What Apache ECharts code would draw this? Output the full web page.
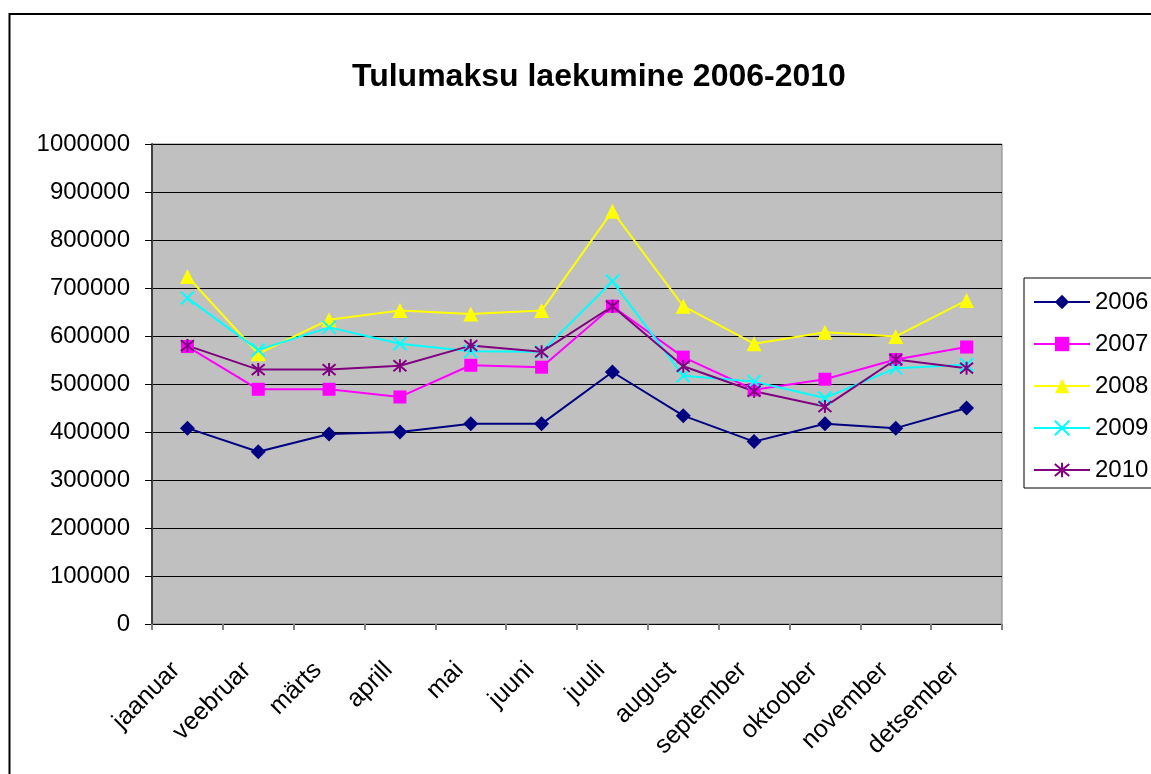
<!DOCTYPE html>
<html>
<head>
<meta charset="utf-8">
<title>Tulumaksu laekumine 2006-2010</title>
<script src="https://cdn.jsdelivr.net/npm/echarts@6/dist/echarts.min.js"></script>
<style>
  html, body { margin: 0; padding: 0; background: #fff; }
  #chart { width: 1151px; height: 774px; }
</style>
</head>
<body>
<div id="chart"></div>
<script>
// kuud
var months = ['jaanuar', 'veebruar', 'märts', 'aprill', 'mai', 'juuni',
  'juuli', 'august', 'september', 'oktoober', 'november', 'detsember'];

// laekumised aastate kaupa (loetud jooniselt)
var y2006 = [408000, 359000, 396000, 400000, 417000, 417000, 525000, 434000, 380000, 417000, 408000, 450000];
var y2007 = [578000, 489000, 489000, 473000, 539000, 535000, 662000, 556000, 488000, 510000, 551000, 577000];
var y2008 = [724000, 563000, 634000, 653000, 646000, 653000, 860000, 662000, 584000, 608000, 599000, 674000];
var y2009 = [679000, 571000, 618000, 584000, 568000, 567000, 714000, 517000, 505000, 471000, 533000, 540000];
var y2010 = [580000, 530000, 530000, 538000, 580000, 567000, 662000, 537000, 485000, 453000, 551000, 533000];

var yearNames = ['2006', '2007', '2008', '2009', '2010'];

var font = '"Liberation Sans", Arial, sans-serif';

// X ja tärn markerid
var crossPath = 'path://M0,0 L10,10 M10,0 L0,10';
var starPath = 'path://M0,0 L10,10 M10,0 L0,10 M5,-1 L5,11';

function lineSeries(name, data, color, symbol, size, stroke) {
  var s = {
    name: name,
    type: 'line',
    data: data,
    symbol: symbol,
    symbolSize: size,
    showAllSymbol: true,
    lineStyle: { color: color, width: 2 },
    itemStyle: { color: color },
    emphasis: { disabled: true },
    animation: false
  };
  if (stroke) {
    s.itemStyle = { color: color, borderColor: color, borderWidth: 2 };
  }
  return s;
}

var chart = echarts.init(document.getElementById('chart'));

var option = {
  backgroundColor: '#ffffff',
  textStyle: { fontFamily: font },
  title: {
    text: 'Tulumaksu laekumine 2006-2010',
    left: 352,
    top: 61,
    padding: 0,
    textStyle: { fontFamily: font, fontSize: 32, fontWeight: 'bold', color: '#000' }
  },
  legend: {
    orient: 'vertical',
    left: 1024,
    top: 278,
    padding: [12, 14, 6, 9],
    itemWidth: 56,
    itemHeight: 18,
    itemGap: 18,
    backgroundColor: '#ffffff',
    borderColor: '#000000',
    borderWidth: 1,
    borderRadius: 0,
    data: yearNames,
    textStyle: { fontFamily: font, fontSize: 24, color: '#000', lineHeight: 24 }
  },
  grid: {
    left: 152,
    top: 144,
    right: 149,
    bottom: 150,
    show: true,
    backgroundColor: '#c0c0c0',
    borderColor: '#808080',
    borderWidth: 1
  },
  xAxis: {
    type: 'category',
    data: months,
    boundaryGap: true,
    axisLine: { show: true, lineStyle: { color: '#000', width: 1 } },
    axisTick: { show: true, length: 6, alignWithLabel: false, lineStyle: { color: '#808080', width: 2 } },
    axisLabel: {
      rotate: 45,
      margin: 31,
      interval: 0,
      padding: [0, 16, 0, 0],
      fontFamily: font,
      fontSize: 25,
      color: '#000'
    },
    splitLine: { show: false }
  },
  yAxis: {
    type: 'value',
    min: 0,
    max: 1000000,
    interval: 100000,
    axisLine: { show: true, lineStyle: { color: '#404040', width: 2 } },
    axisTick: { show: true, length: 7, lineStyle: { color: '#000', width: 1 } },
    axisLabel: {
      margin: 22,
      fontFamily: font,
      fontSize: 24,
      color: '#000',
      formatter: function (v) { return String(v); }
    },
    splitLine: { show: true, lineStyle: { color: '#000', width: 1 } }
  },
  graphic: [{
    type: 'rect',
    shape: { x: 9.5, y: 14, width: 1200, height: 800 },
    style: { fill: 'none', stroke: '#000', lineWidth: 2 },
    silent: true,
    z: -1
  }],
  series: [
    lineSeries('2006', y2006, '#000080', 'diamond', 15, false),
    lineSeries('2007', y2007, '#ff00ff', 'rect', 13, false),
    lineSeries('2008', y2008, '#ffff00', 'triangle', 15, false),
    lineSeries('2009', y2009, '#00ffff', crossPath, 13, true),
    lineSeries('2010', y2010, '#800080', starPath, 13, true)
  ]
};

chart.setOption(option);
</script>
</body>
</html>
